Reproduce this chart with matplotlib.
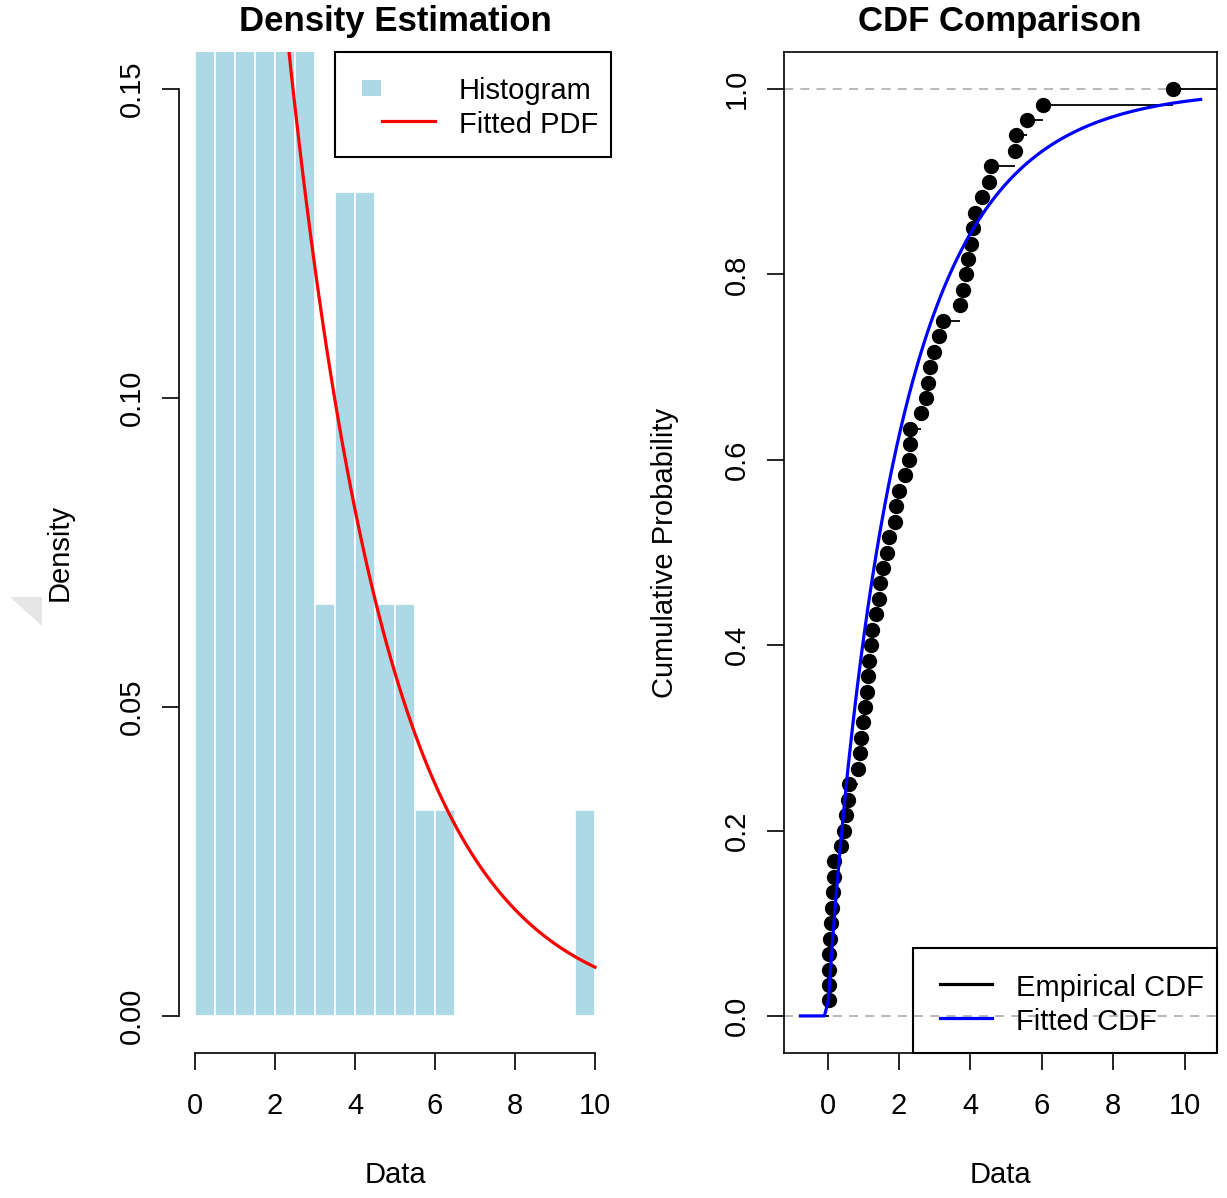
import numpy as np
import matplotlib.pyplot as plt
from matplotlib.patches import Rectangle, Polygon
from matplotlib.lines import Line2D

plt.rcParams['font.family'] = ['Liberation Sans', 'DejaVu Sans']

# sample values
data = np.array([0.03, 0.04, 0.04, 0.05, 0.06, 0.09, 0.13, 0.16, 0.18, 0.19,
                 0.39, 0.47, 0.51, 0.58, 0.60, 0.86, 0.90, 0.95, 0.98, 1.04,
                 1.10, 1.12, 1.16, 1.22, 1.25, 1.35, 1.43, 1.46, 1.56, 1.67,
                 1.73, 1.90, 1.92, 2.01, 2.17, 2.29, 2.31, 2.32, 2.62, 2.77,
                 2.82, 2.87, 2.98, 3.13, 3.24, 3.72, 3.78, 3.89, 3.93, 4.03,
                 4.06, 4.13, 4.32, 4.51, 4.58, 5.24, 5.28, 5.59, 6.04, 9.68])
bin_edges = np.arange(0, 10.5, 0.5)

# fitted distributions
pdf_rate = 0.39        # exponential rate for the PDF curve
cdf_shape = 0.92       # weibull shape for the CDF curve
cdf_scale = 2.04       # weibull scale for the CDF curve

xticks = [0, 2, 4, 6, 8, 10]
pdf_yticks = [0.00, 0.05, 0.10, 0.15]
cdf_yticks = [0.0, 0.2, 0.4, 0.6, 0.8, 1.0]

W, H = 1227, 1198
FS = 21
fig = plt.figure(figsize=(W / 100, H / 100), dpi=100)


def fx(x):
    return x / W


def fy(y):
    return 1 - y / H


#%% left panel: histogram + fitted pdf
ax1 = fig.add_axes([fx(179), fy(1053), (611 - 179) / W, (1053 - 52) / H])
ax1.hist(data, bins=bin_edges, density=True, color='#ADD8E6',
         edgecolor='white', linewidth=1.2)
xs = np.linspace(0, 10, 101)
ax1.plot(xs, pdf_rate * np.exp(-pdf_rate * xs), color='red', lw=2.3)
ax1.set_xlim(-0.4, 10.4)
ax1.set_ylim(-0.006, 0.156)
ax1.spines['top'].set_visible(False)
ax1.spines['right'].set_visible(False)
ax1.spines['left'].set_bounds(0, 0.15)
ax1.spines['bottom'].set_bounds(0, 10)
ax1.set_xticks(xticks)
ax1.set_yticks(pdf_yticks)
ax1.set_yticklabels([f'{v:.2f}' for v in pdf_yticks])
ax1.set_ylabel('Density', fontsize=FS, va='center')
ax1.yaxis.set_label_coords((60 - 179) / 432, 0.5)
ax1.set_xlabel('Data', fontsize=FS, va='center')
ax1.xaxis.set_label_coords(0.5, (1053 - 1175) / 1001)

#%% right panel: ecdf + fitted cdf
ax2 = fig.add_axes([fx(784), fy(1053), (1216.7 - 784) / W, (1053 - 52) / H])
n = len(data)
xlo, xhi = -1.22, 10.9
ax2.axhline(0, color='#B3B3B3', ls=(0, (5, 4)), lw=1.3)
ax2.axhline(1, color='#B3B3B3', ls=(0, (5, 4)), lw=1.3)
steps_y = np.arange(1, n + 1) / n
right_ends = np.append(data[1:], xhi)
ax2.hlines(steps_y, data, right_ends, color='black', lw=1.3)
ax2.hlines(0, -0.77, data[0], color='black', lw=1.3)
ax2.plot(data, steps_y, 'o', color='black', ms=10)
xc = np.linspace(-0.76, 10.45, 101)
cdf = np.where(xc > 0, 1 - np.exp(-(np.clip(xc, 0, None) / cdf_scale) ** cdf_shape), 0)
ax2.plot(xc, cdf, color='blue', lw=2.3)
ax2.set_xlim(xlo, xhi)
ax2.set_ylim(-0.04, 1.04)
ax2.set_xticks(xticks)
ax2.set_yticks(cdf_yticks)
ax2.set_yticklabels([f'{v:.1f}' for v in cdf_yticks])
ax2.set_ylabel('Cumulative Probability', fontsize=FS, va='center')
ax2.yaxis.set_label_coords((665 - 784) / 432.7, 0.5)
ax2.set_xlabel('Data', fontsize=FS, va='center')
ax2.xaxis.set_label_coords(0.5, (1053 - 1175) / 1001)

for ax in (ax1, ax2):
    for s in ax.spines.values():
        s.set_linewidth(1.2)
    ax.tick_params(axis='both', direction='out', length=12, width=1.2,
                   labelsize=FS, color='black')
    ax.tick_params(axis='x', pad=16)
    ax.tick_params(axis='y', pad=12, labelrotation=90)
    for lab in ax.get_yticklabels():
        lab.set_va('center')

#%% titles
fig.text(fx(395), fy(22), 'Density Estimation', fontsize=25, fontweight='bold',
         ha='center', va='center')
fig.text(fx(1000), fy(22), 'CDF Comparison', fontsize=25, fontweight='bold',
         ha='center', va='center')

#%% legends (R style)
fig.add_artist(Rectangle((fx(335), fy(157)), (611 - 335) / W, (157 - 52) / H,
                         transform=fig.transFigure, fill=False, ec='black', lw=1.5))
fig.add_artist(Rectangle((fx(362), fy(96)), 19 / W, 16 / H,
                         transform=fig.transFigure, fc='#ADD8E6', ec='none'))
fig.add_artist(Line2D([fx(382), fx(435)], [fy(121), fy(121)],
                      transform=fig.transFigure, color='red', lw=2.3))
fig.text(fx(459), fy(91), 'Histogram', fontsize=FS, va='center')
fig.text(fx(459), fy(125), 'Fitted PDF', fontsize=FS, va='center')

fig.add_artist(Rectangle((fx(913), fy(1053)), (1216.7 - 913) / W, (1053 - 948) / H,
                         transform=fig.transFigure, fill=False, ec='black', lw=1.5))
fig.add_artist(Line2D([fx(940), fx(992)], [fy(984), fy(984)],
                      transform=fig.transFigure, color='black', lw=2.3))
fig.add_artist(Line2D([fx(940), fx(992)], [fy(1018), fy(1018)],
                      transform=fig.transFigure, color='blue', lw=2.3))
fig.text(fx(1016), fy(988), 'Empirical CDF', fontsize=FS, va='center')
fig.text(fx(1016), fy(1022), 'Fitted CDF', fontsize=FS, va='center')

# faint grey wedge at the left edge of the screenshot
fig.add_artist(Polygon([(fx(10), fy(597)), (fx(42), fy(597)), (fx(42), fy(626))],
                       closed=True, transform=fig.transFigure, fc='#E6E6E6', ec='none'))

fig.savefig('out.png', dpi=100)
